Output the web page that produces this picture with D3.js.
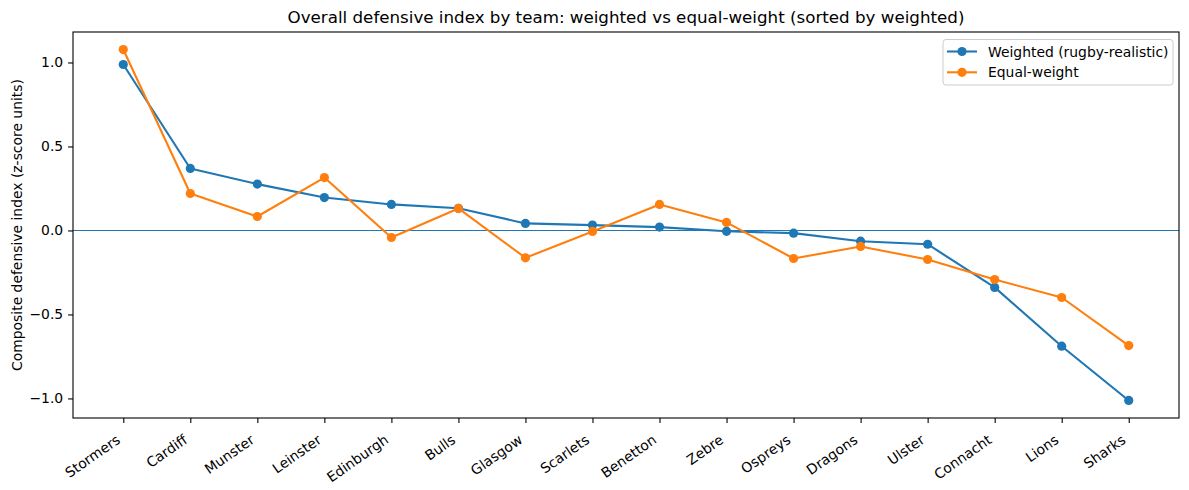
<!DOCTYPE html>
<html>
<head>
<meta charset="utf-8">
<script src="https://cdn.jsdelivr.net/npm/d3@7"></script>
<style>
  html, body { margin: 0; padding: 0; background: #fff; }
  svg text { font-family: "DejaVu Sans", sans-serif; fill: #000; }
</style>
</head>
<body>
<svg id="chart" width="1189" height="490"></svg>
<script>
const teams = ["Stormers","Cardiff","Munster","Leinster","Edinburgh","Bulls","Glasgow","Scarlets","Benetton","Zebre","Ospreys","Dragons","Ulster","Connacht","Lions","Sharks"];
const weighted = [0.988, 0.369, 0.276, 0.196, 0.155, 0.132, 0.042, 0.032, 0.020, -0.005, -0.016, -0.064, -0.082, -0.339, -0.689, -1.012];
const equalWeight = [1.077, 0.220, 0.083, 0.315, -0.042, 0.131, -0.163, -0.006, 0.155, 0.048, -0.167, -0.095, -0.173, -0.292, -0.399, -0.685];
const yTicks = [-1.0, -0.5, 0.0, 0.5, 1.0];
const seriesNames = ["Weighted (rugby-realistic)", "Equal-weight"];
const colors = ["#1f77b4", "#ff7f0e"];

const svg = d3.select("#chart");
const L = 73, R = 1179, T = 32, B = 418;

const x = d3.scaleLinear().domain([-0.75, teams.length - 1 + 0.75]).range([L, R]);
const allVals = weighted.concat(equalWeight);
const lo = d3.min(allVals), hi = d3.max(allVals), pad = (hi - lo) * 0.05;
const y = d3.scaleLinear().domain([lo - pad, hi + pad]).range([B, T]);

// zero line
svg.append("line")
  .attr("x1", L).attr("x2", R)
  .attr("y1", y(0)).attr("y2", y(0))
  .attr("stroke", "#1f77b4").attr("stroke-width", 1.1);

const series = [weighted, equalWeight];
const line = d3.line().x((d, i) => x(i)).y(d => y(d));
series.forEach((s, k) => {
  const g = svg.append("g");
  g.append("path").datum(s).attr("d", line)
    .attr("fill", "none").attr("stroke", colors[k]).attr("stroke-width", 2.1)
    .attr("stroke-linejoin", "round");
  g.selectAll("circle").data(s).enter().append("circle")
    .attr("cx", (d, i) => x(i)).attr("cy", d => y(d)).attr("r", 4.6)
    .attr("fill", colors[k]);
});

// frame
svg.append("rect").attr("x", L).attr("y", T).attr("width", R - L).attr("height", B - T)
  .attr("fill", "none").attr("stroke", "#000").attr("stroke-width", 1.1);

// y axis
const yAxis = d3.axisLeft(y).tickValues(yTicks).tickSize(4.9).tickPadding(4.9)
  .tickFormat(d => d3.format(".1f")(d).replace("-", "\u2212"));
const gy = svg.append("g").attr("transform", `translate(${L},0)`).call(yAxis);
gy.select(".domain").remove();
gy.selectAll("text").style("font-size", "13.9px").style("font-family", "DejaVu Sans");
gy.selectAll("line").attr("stroke-width", 1.1);

// x axis
const xAxis = d3.axisBottom(x).tickValues(d3.range(teams.length)).tickSize(4.9).tickFormat("");
const gx = svg.append("g").attr("transform", `translate(0,${B})`).call(xAxis);
gx.select(".domain").remove();
gx.selectAll("line").attr("stroke-width", 1.1);
svg.append("g").selectAll("text").data(teams).enter().append("text")
  .attr("transform", (d, i) => `translate(${x(i) - 2},${B + 24}) rotate(-35)`)
  .attr("text-anchor", "end")
  .style("font-size", "13.9px")
  .text(d => d);

// title
svg.append("text").attr("x", (L + R) / 2).attr("y", 23).attr("text-anchor", "middle")
  .style("font-size", "16.7px").text("Overall defensive index by team: weighted vs equal-weight (sorted by weighted)");

// y label
svg.append("text").attr("transform", `translate(22,${(T + B) / 2}) rotate(-90)`)
  .attr("text-anchor", "middle").style("font-size", "13.9px")
  .text("Composite defensive index (z-score units)");

// legend
const lg = svg.append("g");
lg.append("rect").attr("x", 943).attr("y", 39.5).attr("width", 230).attr("height", 45.5)
  .attr("rx", 3).attr("fill", "#fff").attr("fill-opacity", 0.8)
  .attr("stroke", "#ccc").attr("stroke-width", 1);
seriesNames.forEach((n, k) => {
  const cy = 51.5 + k * 20.8;
  lg.append("line").attr("x1", 947).attr("x2", 977).attr("y1", cy).attr("y2", cy)
    .attr("stroke", colors[k]).attr("stroke-width", 2.1);
  lg.append("circle").attr("cx", 962).attr("cy", cy).attr("r", 4.6).attr("fill", colors[k]);
  lg.append("text").attr("x", 988).attr("y", cy + 5).style("font-size", "13.9px").text(n);
});
</script>
</body>
</html>
